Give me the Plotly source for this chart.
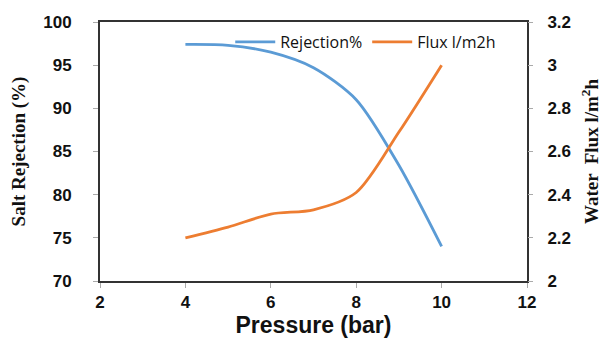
import plotly.graph_objects as go

pressure = [4, 5, 6, 7, 8, 9, 10]
rejection = [97.4, 97.3, 96.5, 94.7, 91.0, 83.4, 74.0]
flux = [2.20, 2.25, 2.31, 2.33, 2.41, 2.69, 3.00]

x_ticks = [2, 4, 6, 8, 10, 12]
y1_ticks = [70, 75, 80, 85, 90, 95, 100]
y2_ticks = [2, 2.2, 2.4, 2.6, 2.8, 3, 3.2]
y2_labels = ["2", "2.2", "2.4", "2.6", "2.8", "3", "3.2"]

fig = go.Figure()
fig.add_trace(go.Scatter(x=pressure, y=rejection, name="Rejection%", mode="lines",
                         line=dict(color="#5B9BD5", width=2.8, shape="spline", smoothing=0.8)))
fig.add_trace(go.Scatter(x=pressure, y=flux, name="Flux l/m2h", mode="lines", yaxis="y2",
                         line=dict(color="#ED7D31", width=2.8, shape="spline", smoothing=0.8)))

tickfont = dict(family="Liberation Sans, Arial", size=17, color="#111")
# page body has an 8px default margin, so the figure is 8px smaller and shifted
fig.update_layout(
    width=608, height=333,
    margin=dict(l=92, r=89, t=14, b=60),
    paper_bgcolor="white", plot_bgcolor="white",
    showlegend=True,
    legend=dict(orientation="h", x=0.305, y=0.923, xanchor="left", yanchor="middle",
                bgcolor="rgba(0,0,0,0)", font=dict(family="Open Sans, Liberation Sans", size=16, color="#111"),
                itemwidth=40, tracegroupgap=0),
    xaxis=dict(range=[2, 12], tickvals=x_ticks, ticktext=["<b>%d</b>" % v for v in x_ticks],
               tickfont=tickfont, showgrid=False, zeroline=False, automargin=False,
               showline=True, linecolor="#333", linewidth=2, mirror=True,
               ticks="outside", tickcolor="#aaa", ticklen=5,
               title=dict(text="<b>Pressure (bar)</b>", font=dict(family="Liberation Sans, Arial", size=23, color="#111"), standoff=4)),
    yaxis=dict(range=[70, 100], tickvals=y1_ticks, ticktext=["<b>%d</b>" % v for v in y1_ticks],
               tickfont=tickfont, showgrid=False, zeroline=False, automargin=False,
               showline=True, linecolor="#333", linewidth=2, mirror=True,
               ticks="outside", tickcolor="#aaa", ticklen=5, ticklabelstandoff=18,
               title=dict(text="<b>Salt Rejection (%)</b>", font=dict(family="Liberation Serif, Times New Roman", size=19, color="#111"), standoff=13)),
    yaxis2=dict(range=[2, 3.2], tickvals=y2_ticks, ticktext=["<b>%s</b>" % t for t in y2_labels],
                overlaying="y", side="right", tickfont=tickfont, showgrid=False, zeroline=False,
                automargin=False, showline=False, ticks="outside", tickcolor="#aaa", ticklen=5,
                ticklabelstandoff=11,
                title=dict(text="<b>Water  Flux l/m<sup>2</sup>h</b>", font=dict(family="Liberation Serif, Times New Roman", size=19, color="#111"), standoff=14)),
)

fig.write_html("out.html")
